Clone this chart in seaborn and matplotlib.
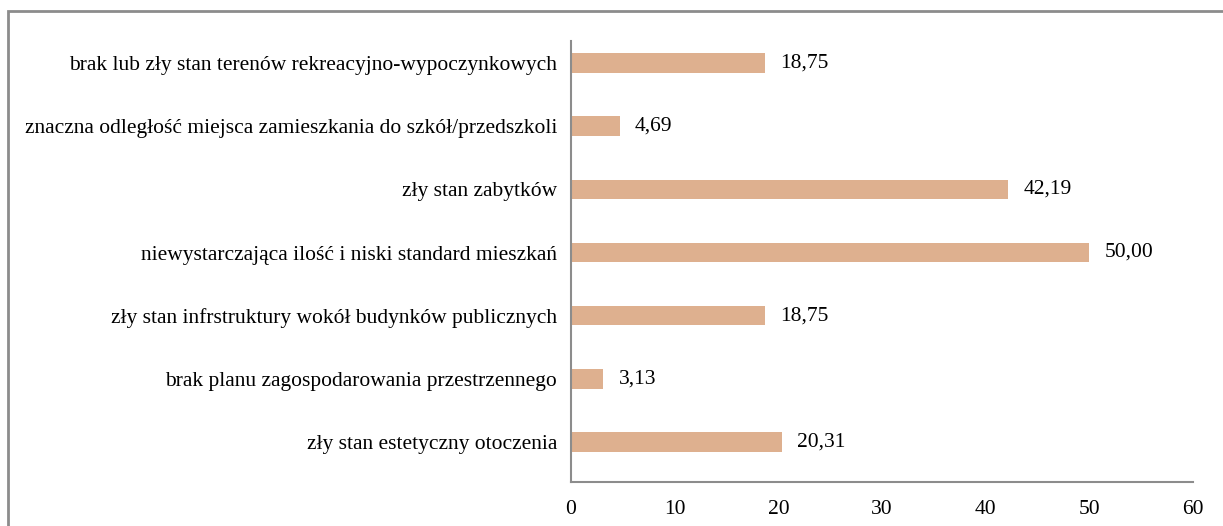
import matplotlib
matplotlib.use("Agg")
import matplotlib.pyplot as plt
import seaborn as sns
import pandas as pd
from matplotlib.patches import Rectangle

categories = [
    "brak lub zły stan terenów rekreacyjno-wypoczynkowych",
    "znaczna odległość miejsca zamieszkania do szkół/przedszkoli",
    "zły stan zabytków",
    "niewystarczająca ilość i niski standard mieszkań",
    "zły stan infrstruktury wokół budynków publicznych",
    "brak planu zagospodarowania przestrzennego",
    "zły stan estetyczny otoczenia",
]
values = [18.75, 4.69, 42.19, 50.00, 18.75, 3.13, 20.31]
xticks = [0, 10, 20, 30, 40, 50, 60]

df = pd.DataFrame({"kategoria": categories, "wartosc": values})

sns.set_theme(style="white")
plt.rcParams["font.family"] = ["Liberation Serif", "DejaVu Serif"]

W, H = 1223, 526
fig = plt.figure(figsize=(W / 100, H / 100), dpi=100)
ax = fig.add_axes([571 / W, 1 - 482 / H, (1193 - 571) / W, (482 - 40.7) / H])

sns.barplot(data=df, x="wartosc", y="kategoria", color="#DEB08F",
            width=0.31, saturation=1, linewidth=0, ax=ax, orient="h")

ax.set_xlim(0, 60)
ax.set_ylim(6.633, -0.353)
ax.set_xticks(xticks)
ax.set_xticklabels([str(t) for t in xticks], fontsize=15.5)
ax.tick_params(axis="x", length=0, pad=13, labelcolor="black")
ax.tick_params(axis="y", length=0, pad=10, labelsize=15.5, labelcolor="black")
ax.set_xlabel("")
ax.set_ylabel("")

for s in ["top", "right"]:
    ax.spines[s].set_visible(False)
for s in ["left", "bottom"]:
    ax.spines[s].set_color("#8c8c8c")
    ax.spines[s].set_linewidth(1.5)

for i, v in enumerate(values):
    ax.text(v + 1.45, i, f"{v:.2f}".replace(".", ","), va="center",
            ha="left", fontsize=15.5, color="black")

# outer frame (runs off the right and bottom edge)
fig.patches.append(Rectangle((7.5 / W, -0.05), 1.1, 1 - 11 / H + 0.05,
                             transform=fig.transFigure, fill=False,
                             edgecolor="#8c8c8c", linewidth=2))

fig.savefig("out.png", dpi=100)
